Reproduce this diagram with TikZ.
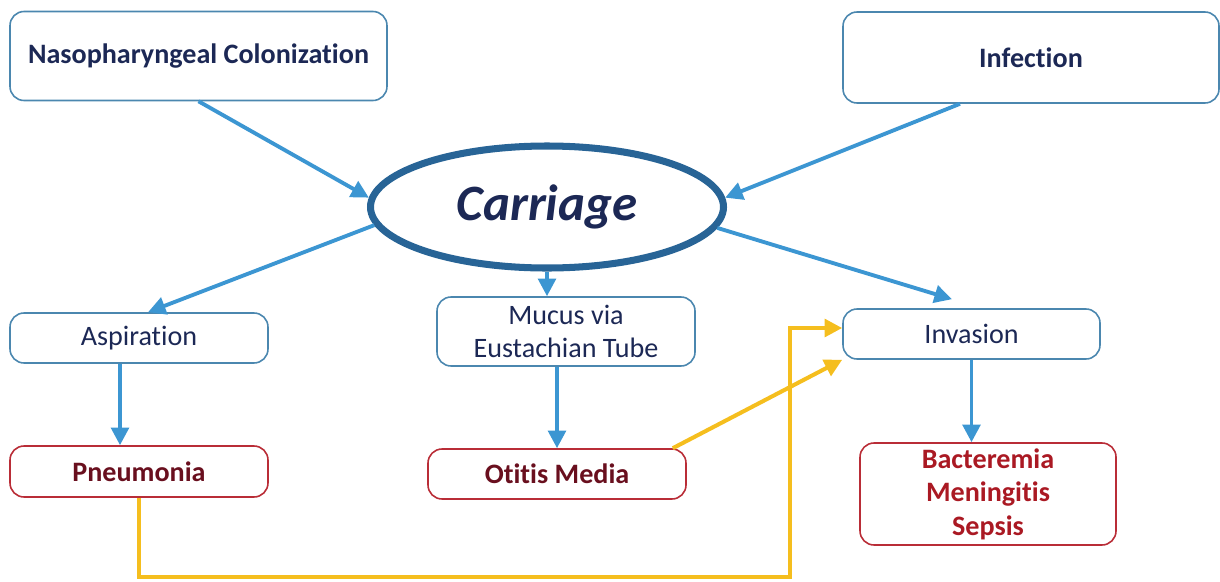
\documentclass[tikz,border=0pt]{standalone}
\usepackage{fontspec}
\setmainfont[Ligatures=NoCommon]{Carlito}
\usetikzlibrary{arrows.meta,shapes.geometric}
\definecolor{boxline}{RGB}{75,135,175}
\definecolor{redline}{RGB}{185,45,55}
\definecolor{navytext}{RGB}{28,40,85}
\definecolor{maroontext}{RGB}{105,15,30}
\definecolor{redtext}{RGB}{170,25,35}
\definecolor{ringblue}{RGB}{40,100,150}
\definecolor{arrowblue}{RGB}{60,150,210}
\definecolor{pathyellow}{RGB}{245,190,30}
\tikzset{
  bluebox/.style={draw=boxline, line width=0.9pt, rounded corners=8pt, align=center,
    text=navytext, inner sep=0pt, font=\fontsize{16}{19}\selectfont},
  redbox/.style={draw=redline, line width=0.9pt, rounded corners=8pt, align=center,
    text=maroontext, inner sep=0pt, font=\bfseries\fontsize{16}{19}\selectfont},
  bluearrow/.style={draw=arrowblue, line width=2.2pt, -{Triangle[length=10pt,width=10pt]}},
  yellowarrow/.style={draw=pathyellow, line width=2.3pt, -{Triangle[length=10pt,width=10pt]}}
}
\begin{document}
\begin{tikzpicture}
  \useasboundingbox (0,0) rectangle (24.4,11.62);

  % Top boxes
  \node (naso) [bluebox, minimum width=7.54cm, minimum height=1.78cm, font=\bfseries\fontsize{16}{19}\selectfont]
    at (3.97,10.50) {Nasopharyngeal Colonization};
  \node (infection) [bluebox, minimum width=7.52cm, minimum height=1.82cm, font=\bfseries\fontsize{16}{19}\selectfont]
    at (20.62,10.47) {Infection};

  % Carriage ellipse
  \node (carriage) [ellipse, draw=ringblue, line width=4pt, minimum width=7.06cm, minimum height=2.44cm,
    text=navytext, font=\bfseries\itshape\fontsize{29}{34}\selectfont] at (10.94,7.48) {Carriage};

  % Middle boxes
  \node (aspiration) [bluebox, minimum width=5.16cm, minimum height=1.0cm] at (2.78,4.86) {Aspiration};
  \node (mucus) [bluebox, minimum width=5.16cm, minimum height=1.38cm] at (11.32,4.99) {Mucus via\\Eustachian Tube};
  \node (invasion) [bluebox, minimum width=5.14cm, minimum height=1.0cm] at (19.43,4.94) {Invasion};

  % Bottom boxes
  \node (pneumonia) [redbox, minimum width=5.16cm, minimum height=1.02cm] at (2.78,2.19) {Pneumonia};
  \node (otitis) [redbox, minimum width=5.16cm, minimum height=1.0cm] at (11.14,2.14) {Otitis Media};
  \node (bacteremia) [redbox, text=redtext, minimum width=5.12cm, minimum height=2.04cm,
    font=\bfseries\fontsize{16}{19}\selectfont] at (19.76,1.74) {Bacteremia\\Meningitis\\Sepsis};

  % Blue arrows
  \draw [bluearrow] (naso.south) -- (carriage.177);
  \draw [bluearrow] ([xshift=-1.42cm]infection.south) -- (carriage.3.5);
  \draw [bluearrow] (carriage.186) -- ([xshift=0.18cm]aspiration.north);
  \draw [bluearrow] (carriage.south) -- (carriage.south |- mucus.north);
  \draw [bluearrow] (carriage.353) -- ([xshift=-0.39cm,yshift=0.18cm]invasion.north);
  \draw [bluearrow] ([xshift=-0.38cm]aspiration.south) -- ([xshift=-0.38cm]pneumonia.north);
  \draw [bluearrow] (mucus.south -| otitis.north) -- (otitis.north);
  \draw [bluearrow] (invasion.south) -- (invasion.south |- bacteremia.north);

  % Yellow arrows
  \coordinate (low) at (15.8,0.08);
  \draw [yellowarrow] (pneumonia.south) |- (low) |- ([yshift=0.12cm]invasion.west);
  \draw [yellowarrow] ([xshift=-0.28cm]otitis.north east) -- (invasion.south west);
\end{tikzpicture}
\end{document}
